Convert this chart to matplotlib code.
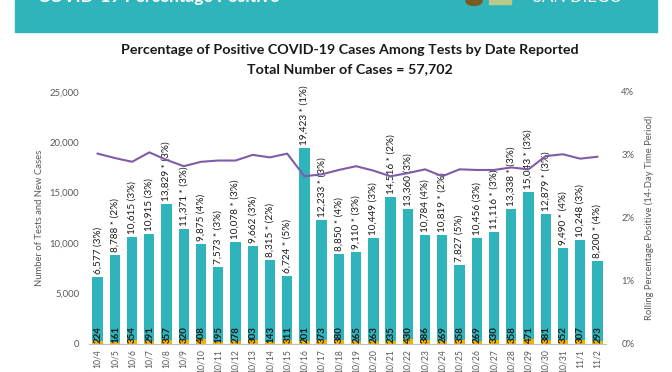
import numpy as np
import matplotlib.pyplot as plt
from matplotlib.patches import Rectangle, Circle

plt.rcParams['font.family'] = ['Lato', 'DejaVu Sans']

# data
dates = ['10/4', '10/5', '10/6', '10/7', '10/8', '10/9', '10/10', '10/11', '10/12', '10/13',
         '10/14', '10/15', '10/16', '10/17', '10/18', '10/19', '10/20', '10/21', '10/22', '10/23',
         '10/24', '10/25', '10/26', '10/27', '10/28', '10/29', '10/30', '10/31', '11/1', '11/2']
tests = [6577, 8788, 10615, 10915, 13829, 11371, 9875, 7573, 10078, 9662,
         8315, 6724, 19423, 12233, 8850, 9110, 10449, 14516, 13360, 10784,
         10819, 7827, 10456, 11116, 13338, 15043, 12879, 9490, 10248, 8200]
starred = [0, 1, 0, 0, 1, 1, 0, 1, 1, 0,
           1, 1, 1, 1, 1, 1, 0, 1, 0, 0,
           1, 0, 0, 1, 1, 1, 1, 1, 0, 1]
daily_pct = [3, 2, 3, 3, 3, 3, 4, 3, 3, 3,
             2, 5, 1, 3, 4, 3, 3, 2, 3, 4,
             2, 5, 3, 3, 3, 3, 3, 4, 3, 4]
cases = [224, 161, 354, 291, 357, 320, 408, 195, 278, 303,
         143, 311, 201, 373, 380, 265, 263, 235, 430, 386,
         269, 358, 269, 330, 358, 471, 381, 352, 307, 293]
rolling = [3.02, 2.95, 2.89, 3.04, 2.92, 2.82, 2.89, 2.91, 2.91, 3.00,
           2.96, 3.02, 2.66, 2.69, 2.76, 2.82, 2.75, 2.66, 2.71, 2.77,
           2.66, 2.77, 2.76, 2.76, 2.80, 2.77, 2.98, 3.01, 2.94, 2.97]

teal = '#2fb4bc'
gold = '#f2b400'
purple = '#7e5ca8'
grey = '#595959'

fig = plt.figure(figsize=(6.72, 3.72), dpi=100)

# header band (cut off at the top of the page)
fig.patches.append(Rectangle((15 / 672, 1 - 32 / 372), 642 / 672, 32 / 372,
                             transform=fig.transFigure, color=teal, zorder=0))
fig.patches.append(Circle((474 / 672, 1 - 1 / 372), 8 / 672, transform=fig.transFigure,
                          color='#7a5a1e', zorder=1))
fig.patches.append(Rectangle((489 / 672, 1 - 4 / 372), 22 / 672, 5 / 372,
                             transform=fig.transFigure, color='#b9c98a', zorder=1))
fig.text(38 / 672, 1 - 5 / 372, 'COVID-19 Percentage Positive', color='white',
         fontsize=12.5, fontweight='bold', va='bottom', ha='left')
fig.text(533 / 672, 1 - 5 / 372, 'SAN DIEGO', color='white',
         fontsize=12, va='bottom', ha='left')

fig.text(350 / 672, 1 - 50 / 372, 'Percentage of Positive COVID-19 Cases Among Tests by Date Reported',
         ha='center', va='center', fontsize=10.3, fontweight='bold', color='#1a1a1a')
fig.text(350 / 672, 1 - 69 / 372, 'Total Number of Cases = 57,702',
         ha='center', va='center', fontsize=10.3, fontweight='bold', color='#1a1a1a')

ax = fig.add_axes([89 / 672, 1 - 343.5 / 372, 517 / 672, 251.5 / 372])
x = np.arange(len(dates))
ax.bar(x, tests, width=0.6, color=teal, zorder=2)
ax.bar(x, cases, width=0.6, color=gold, zorder=3)

for i in range(len(dates)):
    star = ' *' if starred[i] else ''
    ax.text(x[i], tests[i] + 300, f'{tests[i]:,}{star} ({daily_pct[i]}%)', rotation=90,
            ha='center', va='bottom', fontsize=7.2, color='#1a1a1a', zorder=4)
    ax.text(x[i] + 0.03, 40, f'{cases[i]}', rotation=90, ha='center', va='bottom',
            fontsize=7, fontweight='bold', color='#1a1a1a', zorder=4)

ax.set_xlim(-0.5, len(dates) - 0.5)
ax.set_ylim(0, 25000)
ax.set_yticks(range(0, 25001, 5000))
ax.set_yticklabels([f'{v:,}' for v in range(0, 25001, 5000)])
ax.set_xticks(x)
ax.set_xticklabels(dates, rotation=90, fontsize=6.2)
ax.tick_params(axis='both', length=0, colors=grey)
ax.tick_params(axis='y', pad=7, labelsize=6.8)
ax.tick_params(axis='x', pad=4)
for s in ['top', 'right', 'left']:
    ax.spines[s].set_visible(False)
ax.spines['bottom'].set_color('#bfbfbf')
ax.set_ylabel('Number of Tests and New Cases', fontsize=6.8, color=grey, labelpad=4)

ax2 = ax.twinx()
ax2.plot(x, rolling, color=purple, linewidth=1.5, zorder=5)
ax2.set_ylim(0, 4)
ax2.set_yticks([0, 1, 2, 3, 4])
ax2.set_yticklabels(['0%', '1%', '2%', '3%', '4%'])
ax2.tick_params(axis='y', length=0, labelsize=6.8, colors=grey, pad=11)
for s in ['top', 'right', 'left', 'bottom']:
    ax2.spines[s].set_visible(False)
ax2.set_ylabel('Rolling Percentage Positive (14-Day Time Period)', fontsize=6.8,
               color=grey, labelpad=7)

fig.savefig('out.png', dpi=100)
